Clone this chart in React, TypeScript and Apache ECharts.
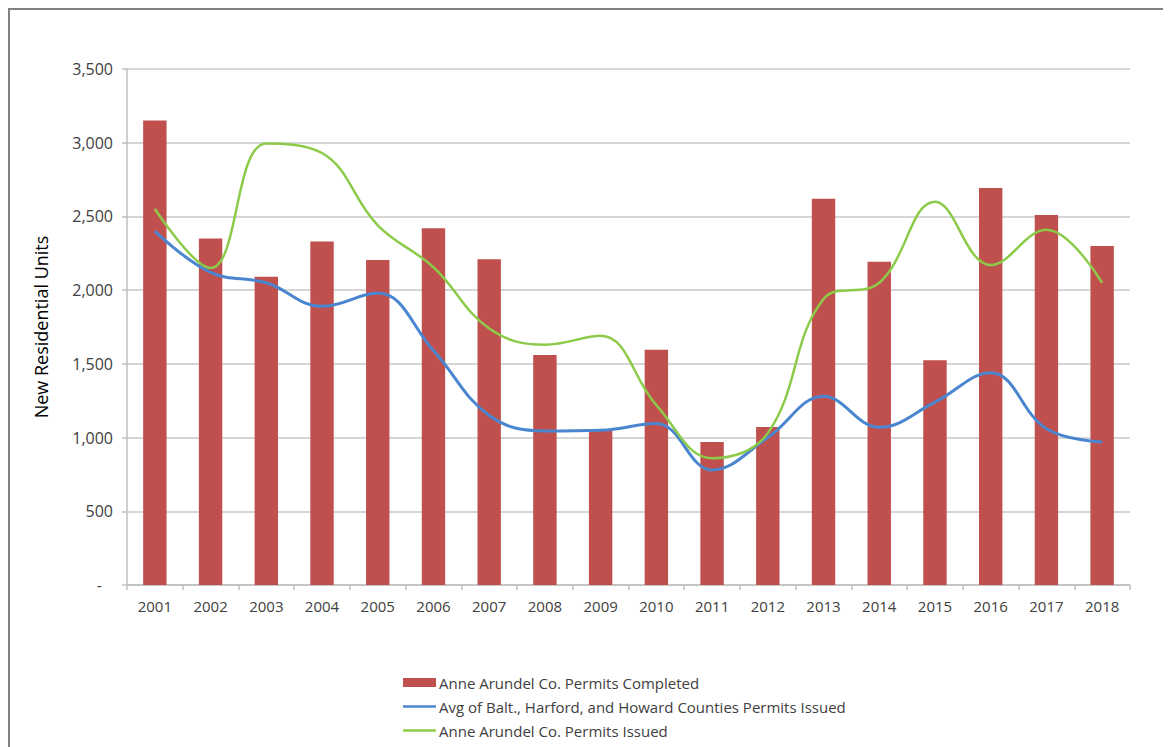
import React, { useEffect, useRef } from "react";
import * as echarts from "echarts";

const years = ["2001","2002","2003","2004","2005","2006","2007","2008","2009","2010","2011","2012","2013","2014","2015","2016","2017","2018"];
const permitsCompleted = [3150, 2350, 2090, 2330, 2205, 2420, 2210, 1560, 1050, 1595, 970, 1072, 2620, 2192, 1525, 2693, 2510, 2300];
const avgOtherCounties = [2400, 2120, 2050, 1890, 1980, 1590, 1150, 1045, 1050, 1095, 780, 1000, 1280, 1070, 1240, 1440, 1060, 970];
const permitsIssued = [2550, 2150, 2995, 2930, 2440, 2155, 1740, 1630, 1690, 1220, 860, 1030, 1940, 2050, 2600, 2170, 2410, 2050];

const seriesNames = [
  "Anne Arundel Co. Permits Completed",
  "Avg of Balt., Harford, and Howard Counties Permits Issued",
  "Anne Arundel Co. Permits Issued",
];

const FONT = "'Open Sans', 'Noto Sans', sans-serif";
const LINE_ICON = "path://M0,0H33V2.5H0Z";

export default function App() {
  const ref = useRef<HTMLDivElement>(null);
  useEffect(() => {
    if (!ref.current) return;
    const chart = echarts.init(ref.current, undefined, { renderer: "svg" });
    chart.setOption({
      animation: false,
      backgroundColor: "#ffffff",
      textStyle: { fontFamily: FONT },
      graphic: [
        { type: "line", shape: { x1: 0, y1: 1, x2: 1163, y2: 1 }, style: { stroke: "#808080", lineWidth: 2 } },
        { type: "line", shape: { x1: 1, y1: 0, x2: 1, y2: 739 }, style: { stroke: "#808080", lineWidth: 2 } },
      ],
      grid: { left: 119, right: 41, top: 61, bottom: 162, containLabel: false },
      legend: {
        orient: "vertical",
        left: 390,
        top: 662,
        itemWidth: 33,
        itemHeight: 9,
        itemGap: 9,
        symbolKeepAspect: true,
        textStyle: { fontFamily: FONT, fontSize: 15, color: "#404040", padding: [0, 0, 0, -2] },
        data: [
          { name: seriesNames[0], icon: "rect" },
          { name: seriesNames[1], icon: LINE_ICON },
          { name: seriesNames[2], icon: LINE_ICON },
        ],
      },
      xAxis: {
        type: "category",
        data: years,
        boundaryGap: true,
        axisLine: { show: true, lineStyle: { color: "#BFBFBF", width: 1.5 } },
        axisTick: { show: true, length: 5, lineStyle: { color: "#BFBFBF", width: 1.5 } },
        axisLabel: { color: "#404040", fontSize: 15, margin: 13, fontFamily: FONT },
      },
      yAxis: {
        type: "value",
        min: 0,
        max: 3500,
        interval: 500,
        name: "New Residential Units",
        nameLocation: "middle",
        nameGap: 77,
        nameTextStyle: { color: "#000000", fontSize: 18, fontFamily: FONT },
        axisLine: { show: true, lineStyle: { color: "#BFBFBF", width: 1.5 } },
        axisTick: { show: true, length: 5, lineStyle: { color: "#BFBFBF", width: 1.5 } },
        splitLine: { show: true, lineStyle: { color: "#C8C8C8", width: 1.5 } },
        axisLabel: {
          color: "#404040",
          fontSize: 16,
          margin: 14,
          fontFamily: FONT,
          formatter: (v: number) => (v === 0 ? "{d|-}" : v.toLocaleString("en-US")),
          rich: { d: { color: "#404040", fontSize: 16, padding: [0, 11, 0, 0] } },
        },
      },
      series: [
        {
          name: seriesNames[0],
          type: "bar",
          data: permitsCompleted,
          barWidth: "42%",
          itemStyle: { color: "#C0504D" },
        },
        {
          name: seriesNames[1],
          type: "line",
          data: avgOtherCounties,
          smooth: 0.4,
          symbol: "none",
          lineStyle: { color: "#4A86CF", width: 3 },
          itemStyle: { color: "#4A86CF" },
        },
        {
          name: seriesNames[2],
          type: "line",
          data: permitsIssued,
          smooth: 0.4,
          symbol: "none",
          lineStyle: { color: "#8CCB4A", width: 2.5 },
          itemStyle: { color: "#8CCB4A" },
        },
      ],
    });
    return () => chart.dispose();
  }, []);
  return <div ref={ref} style={{ width: 1163, height: 739 }} />;
}
